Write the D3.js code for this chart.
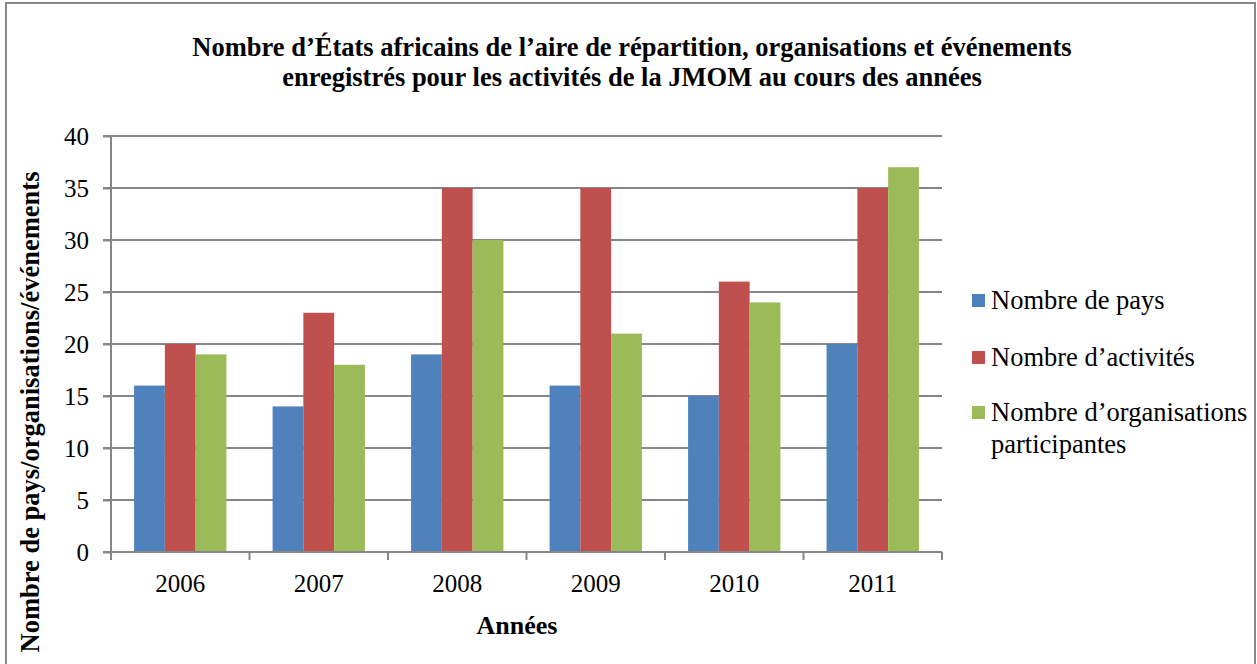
<!DOCTYPE html>
<html>
<head>
<meta charset="utf-8">
<script src="https://cdn.jsdelivr.net/npm/d3@7"></script>
<style>
  body { margin: 0; background: #fff; }
</style>
</head>
<body>
<div id="chart"></div>
<script>
/*
  Clustered column chart
*/

var years = ["2006", "2007", "2008", "2009", "2010", "2011"];
var seriesNames = [
  ["Nombre de pays"],
  ["Nombre d\u2019activités"],
  ["Nombre d\u2019organisations", "participantes"]
];
var pays = [16, 14, 19, 16, 15, 20];
var activites = [20, 23, 35, 35, 26, 35];
var organisations = [19, 18, 30, 21, 24, 37];
var yTicks = [0, 5, 10, 15, 20, 25, 30, 35, 40];
var colors = ["#4F81BD", "#C0504D", "#9BBB59"];

var FONT = "'Liberation Serif', 'Times New Roman', serif";
var W = 1257, H = 664;
var margin = {top: 136, right: 315, bottom: 112, left: 111};
var width = W - margin.left - margin.right,
    height = H - margin.top - margin.bottom;

var seriesValues = [pays, activites, organisations];

var svg = d3.select("#chart").append("svg")
  .attr("width", W)
  .attr("height", H)
  .style("font-family", FONT);

// outer frame
svg.append("rect")
  .attr("x", 6).attr("y", 3)
  .attr("width", 1249).attr("height", 680)
  .style("fill", "none")
  .style("stroke", "#878787")
  .style("stroke-width", 2);

// title
var title = svg.append("text")
  .attr("text-anchor", "middle")
  .style("font-family", FONT)
  .style("font-weight", "bold")
  .style("font-size", "26.5px");
title.append("tspan").attr("x", 632).attr("y", 56)
  .text("Nombre d\u2019États africains de l\u2019aire de répartition, organisations et événements");
title.append("tspan").attr("x", 632).attr("y", 86)
  .text("enregistrés pour les activités de la JMOM au cours des années");

var g = svg.append("g")
  .attr("transform", "translate(" + margin.left + "," + margin.top + ")");

// Excel style: gap width 150% of a bar => each category = 4.5 bar widths
var step = width / years.length,
    barW = step / 4.5;
var x1 = d3.scaleBand().domain(d3.range(3)).range([0, barW * 3]);
var y = d3.scaleLinear().domain([0, 40]).range([height, 0]);

// gridlines
g.selectAll(".grid")
  .data(yTicks)
  .enter().append("line")
  .attr("class", "grid")
  .attr("x1", -8).attr("x2", width)
  .attr("y1", function(d){ return y(d); })
  .attr("y2", function(d){ return y(d); })
  .style("stroke", "#868686")
  .style("stroke-width", 2);

// bars
var groups = g.selectAll(".year")
  .data(years)
  .enter().append("g")
  .attr("class", "year")
  .attr("transform", function(d, i){ return "translate(" + (i * step + barW * 0.75) + ",0)"; });

groups.selectAll("rect")
  .data(function(d, i){ return seriesValues.map(function(s, k){ return {k: k, v: s[i]}; }); })
  .enter().append("rect")
  .attr("x", function(d){ return x1(d.k); })
  .attr("width", x1.bandwidth())
  .attr("y", function(d){ return y(d.v); })
  .attr("height", function(d){ return height - y(d.v); })
  .style("fill", function(d){ return colors[d.k]; });

// Y axis
var yAxis = g.append("g")
  .call(d3.axisLeft(y).tickValues(yTicks).tickSize(8).tickPadding(14));
yAxis.attr("font-family", null).attr("font-size", null);
yAxis.select(".domain").style("stroke", "#868686").style("stroke-width", 2).attr("d", "M0," + height + "V0");
yAxis.selectAll(".tick line").style("stroke", "#868686").style("stroke-width", 2);
yAxis.selectAll("text")
  .style("font-family", FONT)
  .style("font-size", "25px")
  .style("fill", "#000")
  .attr("dy", "0.33em");

// X axis
var xBoundaries = d3.range(years.length + 1).map(function(i){ return i * step; });
g.append("line")
  .attr("x1", 0).attr("x2", width)
  .attr("y1", height).attr("y2", height)
  .style("stroke", "#868686").style("stroke-width", 2);
g.selectAll(".xtick")
  .data(xBoundaries)
  .enter().append("line")
  .attr("x1", function(d){ return d; }).attr("x2", function(d){ return d; })
  .attr("y1", height).attr("y2", height + 8)
  .style("stroke", "#868686").style("stroke-width", 2);
g.selectAll(".xlabel")
  .data(years)
  .enter().append("text")
  .attr("x", function(d, i){ return i * step + step / 2; })
  .attr("y", height + 40)
  .attr("text-anchor", "middle")
  .style("font-family", FONT)
  .style("font-size", "25px")
  .text(function(d){ return d; });

// axis titles
svg.append("text")
  .attr("x", 517).attr("y", 634)
  .attr("text-anchor", "middle")
  .style("font-family", FONT)
  .style("font-weight", "bold")
  .style("font-size", "26px")
  .text("Années");

svg.append("text")
  .attr("transform", "translate(39,412) rotate(-90)")
  .attr("text-anchor", "middle")
  .style("font-family", FONT)
  .style("font-weight", "bold")
  .style("font-size", "26.5px")
  .text("Nombre de pays/organisations/événements");

// legend
var legendY = [301, 358, 413];
var legend = svg.selectAll(".legend")
  .data(seriesNames)
  .enter().append("g")
  .attr("class", "legend")
  .attr("transform", function(d, i){ return "translate(972," + legendY[i] + ")"; });

legend.append("rect")
  .attr("x", 0).attr("y", -7)
  .attr("width", 13).attr("height", 13)
  .style("fill", function(d, i){ return colors[i]; });

legend.append("text")
  .attr("y", 8)
  .style("font-family", FONT)
  .style("font-size", "26.5px")
  .selectAll("tspan")
  .data(function(d){ return d; })
  .enter().append("tspan")
  .attr("x", 19)
  .attr("dy", function(d, i){ return i ? 32 : 0; })
  .text(function(d){ return d; });
</script>
</body>
</html>
